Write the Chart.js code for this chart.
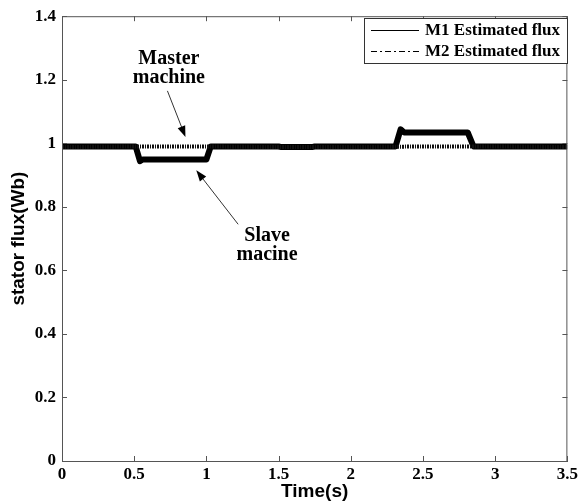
<!DOCTYPE html>
<html>
<head>
<meta charset="utf-8">
<script src="https://cdn.jsdelivr.net/npm/chart.js@4.4.1/dist/chart.umd.min.js"></script>
<style>
  html, body { margin: 0; padding: 0; background: #fff; }
  #wrap { width: 581px; height: 503px; }
</style>
</head>
<body>
<div id="wrap"><canvas id="fluxChart" width="581" height="503"></canvas></div>
<script>
// axis ticks
const xTicks = [0, 0.5, 1, 1.5, 2, 2.5, 3, 3.5];
const yTicks = [0, 0.2, 0.4, 0.6, 0.8, 1, 1.2, 1.4];

// M1 estimated flux (dips while slave, rises later)
const m1Time = [0, 0.51, 0.54, 0.56, 1.0, 1.03, 1.5, 1.52, 1.73, 1.75, 2.31, 2.345, 2.37, 2.81, 2.85, 3.5];
const m1Flux = [0.99, 0.99, 0.944, 0.949, 0.949, 0.99, 0.99, 0.988, 0.988, 0.99, 0.99, 1.044, 1.034, 1.034, 0.99, 0.99];

// M2 estimated flux
const m2Time = [0, 0.5, 1.0, 1.5, 2.0, 2.5, 3.0, 3.5];
const m2Flux = [0.988, 0.99, 0.99, 0.988, 0.988, 0.99, 0.99, 0.988];

const seriesNames = ['M1 Estimated flux', 'M2 Estimated flux'];

// text labels with arrows, in data units
const notes = [
    { lines: ['Master', 'machine'], x: 0.74, y: 1.265, from: [0.73, 1.165], to: [0.855, 1.02] },
    { lines: ['Slave', 'macine'], x: 1.42, y: 0.71, from: [1.22, 0.745], to: [0.93, 0.915] }
];

const serif = '"Liberation Serif", "Times New Roman", serif';
const sans = '"Liberation Sans", Arial, sans-serif';

const frame = {
    id: 'frame',
    afterDatasetsDraw(chart) {
        const { ctx, chartArea: a, scales } = chart;
        ctx.save();
        ctx.strokeStyle = '#555';
        ctx.lineWidth = 1;
        ctx.strokeRect(a.left + 0.5, a.top + 0.5, a.right - a.left - 1, a.bottom - a.top);
        ctx.beginPath();
        xTicks.forEach(v => {
            const px = Math.round(scales.x.getPixelForValue(v)) + 0.5;
            ctx.moveTo(px, a.bottom); ctx.lineTo(px, a.bottom - 5);
            ctx.moveTo(px, a.top); ctx.lineTo(px, a.top + 5);
        });
        yTicks.forEach(v => {
            const py = Math.round(scales.y.getPixelForValue(v)) + 0.5;
            ctx.moveTo(a.left, py); ctx.lineTo(a.left + 5, py);
            ctx.moveTo(a.right, py); ctx.lineTo(a.right - 5, py);
        });
        ctx.stroke();

        // legend box
        const lx = 364, ly = 18, lw = 203, lh = 45;
        ctx.fillStyle = '#fff';
        ctx.fillRect(lx, ly, lw, lh);
        ctx.strokeStyle = '#333';
        ctx.strokeRect(lx + 0.5, ly + 0.5, lw, lh);
        ctx.font = 'bold 17px ' + serif;
        ctx.textBaseline = 'middle';
        ctx.fillStyle = '#000';
        chart.data.datasets.forEach((ds, i) => {
            const ry = ly + 12 + i * 21;
            ctx.beginPath();
            ctx.lineWidth = 1;
            ctx.strokeStyle = '#000';
            ctx.setLineDash(i === 0 ? [] : [6, 3, 2, 3]);
            ctx.moveTo(lx + 7, ry + 0.5); ctx.lineTo(lx + 55, ry + 0.5);
            ctx.stroke();
            ctx.setLineDash([]);
            ctx.fillText(seriesNames[i], lx + 61, ry + 1);
        });

        // notes with arrows
        ctx.font = 'bold 20px ' + serif;
        ctx.textAlign = 'center';
        notes.forEach(n => {
            const tx = scales.x.getPixelForValue(n.x);
            const ty = scales.y.getPixelForValue(n.y);
            n.lines.forEach((t, k) => ctx.fillText(t, tx, ty + k * 19));
            const x1 = scales.x.getPixelForValue(n.from[0]), y1 = scales.y.getPixelForValue(n.from[1]);
            const x2 = scales.x.getPixelForValue(n.to[0]), y2 = scales.y.getPixelForValue(n.to[1]);
            const ang = Math.atan2(y2 - y1, x2 - x1);
            ctx.strokeStyle = '#333';
            ctx.lineWidth = 1;
            ctx.beginPath();
            ctx.moveTo(x1, y1); ctx.lineTo(x2 - 8 * Math.cos(ang), y2 - 8 * Math.sin(ang));
            ctx.stroke();
            ctx.fillStyle = '#000';
            ctx.beginPath();
            ctx.moveTo(x2, y2);
            ctx.lineTo(x2 - 11 * Math.cos(ang) + 4 * Math.sin(ang), y2 - 11 * Math.sin(ang) - 4 * Math.cos(ang));
            ctx.lineTo(x2 - 11 * Math.cos(ang) - 4 * Math.sin(ang), y2 - 11 * Math.sin(ang) + 4 * Math.cos(ang));
            ctx.closePath();
            ctx.fill();
        });
        ctx.restore();
    }
};

const ctx = document.getElementById('fluxChart').getContext('2d');
new Chart(ctx, {
    type: 'line',
    data: {
        datasets: [
            {
                label: seriesNames[0],
                data: m1Time.map((t, i) => ({ x: t, y: m1Flux[i] })),
                borderColor: '#000',
                borderWidth: 6,
                borderJoinStyle: 'round',
                pointRadius: 0,
                tension: 0,
                order: 2
            },
            {
                label: seriesNames[1],
                data: m2Time.map((t, i) => ({ x: t, y: m2Flux[i] })),
                borderColor: '#111',
                borderWidth: 4,
                borderDash: [2, 1, 1, 1],
                pointRadius: 0,
                tension: 0,
                order: 1
            }
        ]
    },
    options: {
        responsive: false,
        animation: false,
        devicePixelRatio: 1,
        layout: { padding: { top: 13, right: 13, left: 0, bottom: 0 } },
        plugins: { legend: { display: false }, tooltip: { enabled: false } },
        scales: {
            x: {
                type: 'linear',
                min: 0,
                max: 3.5,
                afterBuildTicks: s => { s.ticks = xTicks.map(v => ({ value: v })); },
                afterFit: s => { s.height = 42; },
                grid: { display: false, drawTicks: false },
                border: { display: true, color: '#555' },
                ticks: { color: '#000', padding: 3, maxRotation: 0, font: { family: serif, size: 17, weight: 'bold' }, callback: v => String(v) },
                title: { display: true, text: 'Time(s)', color: '#000', padding: { top: 0, bottom: 0 }, font: { family: sans, size: 19, weight: 'bold' } }
            },
            y: {
                type: 'linear',
                min: 0,
                max: 1.4,
                afterBuildTicks: s => { s.ticks = yTicks.map(v => ({ value: v })); },
                afterFit: s => { s.width = 62; },
                grid: { display: false, drawTicks: false },
                border: { display: true, color: '#555' },
                ticks: { color: '#000', padding: 6, font: { family: serif, size: 17, weight: 'bold' }, callback: v => String(v) },
                title: { display: true, text: 'stator flux(Wb)', color: '#000', padding: { top: 7, bottom: 0 }, font: { family: sans, size: 19, weight: 'bold' } }
            }
        }
    },
    plugins: [frame]
});
</script>
</body>
</html>
